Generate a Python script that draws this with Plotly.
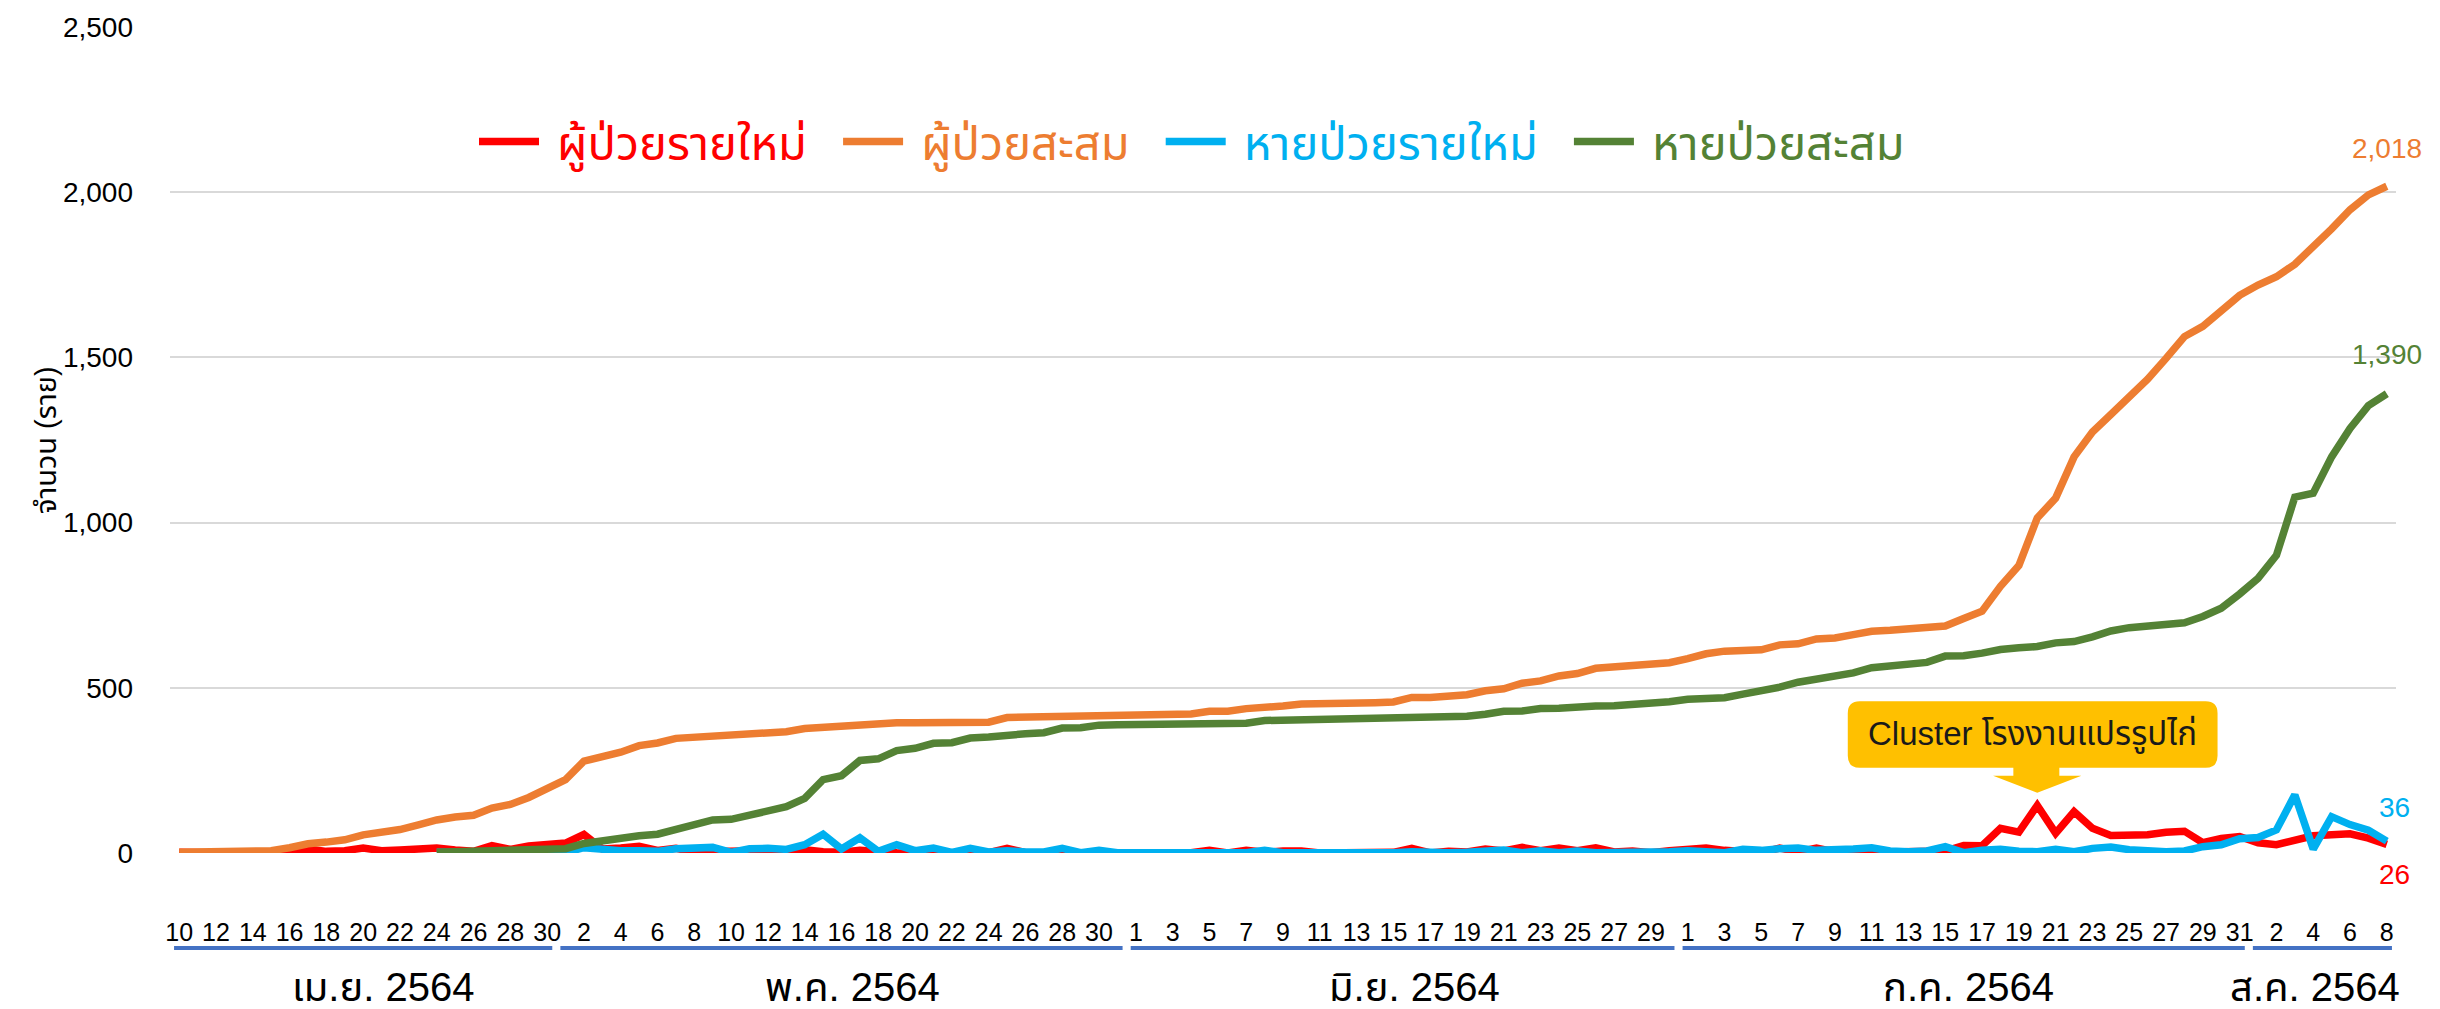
import plotly.graph_objects as go

# ---------------- data ----------------
month_names = ["เม.ย. 2564", "พ.ค. 2564", "มิ.ย. 2564", "ก.ค. 2564", "ส.ค. 2564"]
month_first_day = [10, 1, 1, 1, 1]
month_last_day = [30, 31, 30, 31, 8]

series_names = ["ผู้ป่วยรายใหม่", "ผู้ป่วยสะสม", "หายป่วยรายใหม่", "หายป่วยสะสม"]
series_colors = ["#FF0000", "#ED7D31", "#00B0F0", "#548235"]

# new cases (daily), 10 Apr .. 8 Aug 2564
new_cases = [2, 0, 1, 2, 1, 1, 9, 12, 5, 7,
             15, 7, 9, 14, 15, 9, 5, 22, 11, 21,
             24, 30, 56, 12, 15, 20, 8, 14, 3, 4,
             2, 2, 4, 5, 10, 4, 2, 8, 2, 1,
             0, 0, 1, 0, 1, 14, 1, 1, 1, 0,
             1, 3, 2, 1, 0, 1, 8, 0, 8, 2,
             6, 6, 0, 1, 1, 2, 2, 14, 0, 5,
             3, 12, 6, 17, 7, 15, 7, 16, 3, 6,
             1, 7, 12, 15, 8, 3, 1, 15, 3, 15,
             3, 10, 10, 3, 5, 2, 6, 23, 22, 75,
             63, 144, 60, 125, 75, 53, 52, 55, 63, 66,
             31, 44, 50, 31, 25, 38, 52, 55, 58, 45, 26]

# cumulative cases
cum_cases = [2, 2, 3, 5, 6, 7, 16, 28, 33, 40,
             55, 62, 71, 85, 100, 109, 114, 136, 147, 168,
             192, 222, 278, 290, 305, 325, 333, 347, 350, 354,
             356, 358, 362, 367, 377, 381, 383, 391, 393, 394,
             394, 394, 395, 395, 396, 410, 411, 412, 413, 413,
             414, 417, 419, 420, 420, 421, 429, 429, 437, 439,
             445, 451, 451, 452, 453, 455, 457, 471, 471, 476,
             479, 491, 497, 514, 521, 536, 543, 559, 562, 568,
             569, 576, 588, 603, 611, 614, 615, 630, 633, 648,
             651, 661, 671, 674, 679, 681, 687, 710, 732, 807,
             870, 1014, 1074, 1199, 1274, 1327, 1379, 1434, 1497, 1563,
             1594, 1638, 1688, 1719, 1744, 1782, 1834, 1889, 1947, 1992, 2018]

# new recoveries (daily) - first reported 24 Apr
new_recovered = [None] * 14 + [
             2, 1, 1, 2, 2, 1,
             2, 2, 16, 9, 7, 7, 5, 13, 13, 17,
             2, 13, 14, 11, 25, 57, 12, 46, 5, 25,
             7, 15, 2, 14, 3, 7, 3, 3, 14, 1,
             8, 1, 1, 1, 1, 0, 0, 1, 1, 8,
             1, 1, 0, 1, 0, 1, 1, 4, 1, 1,
             2, 6, 9, 1, 7, 1, 6, 1, 1, 3,
             5, 4, 7, 4, 1, 11, 8, 13, 15, 8,
             8, 12, 16, 6, 4, 6, 19, 1, 8, 11,
             5, 4, 11, 4, 14, 18, 10, 5, 4, 6,
             19, 25, 43, 47, 70, 176, 12, 110, 86, 69, 36]

# cumulative recoveries
cum_recovered = [None] * 14 + [
             2, 3, 4, 6, 8, 9,
             11, 13, 29, 38, 45, 52, 57, 70, 83, 100,
             102, 115, 129, 140, 165, 222, 234, 280, 285, 310,
             317, 332, 334, 348, 351, 358, 361, 364, 378, 379,
             387, 388, 389, 390, 391, 391, 391, 392, 393, 401,
             402, 403, 403, 404, 404, 405, 406, 410, 411, 412,
             414, 420, 429, 430, 437, 438, 444, 445, 446, 449,
             454, 458, 465, 469, 470, 481, 489, 502, 517, 525,
             533, 545, 561, 567, 571, 577, 596, 597, 605, 616,
             621, 625, 636, 640, 654, 672, 682, 687, 691, 697,
             716, 741, 784, 831, 901, 1077, 1089, 1199, 1285, 1354, 1390]

y_ticks = [0, 500, 1000, 1500, 2000, 2500]
y_title = "จำนวน (ราย)"
callout_text = "Cluster โรงงานแปรรูปไก่"
callout_month, callout_daynum = 3, 20  # ก.ค. 20 : the day the callout points at

# ---------------- categories ----------------
day_labels, month_index = [], []
for m, (a, b) in enumerate(zip(month_first_day, month_last_day)):
    for d in range(a, b + 1):
        day_labels.append(d)
        month_index.append(m)
x = list(range(len(day_labels)))
cat_text = [f"{d} {month_names[m]}" for d, m in zip(day_labels, month_index)]

FONT = "Liberation Sans, Noto Sans Thai, Noto Sans, sans-serif"
W, H = 2440, 1009
L, R, T, B = 170, 44, 19, 156
PW, PH = W - L - R, H - T - B

def py(pix):  # pixel y -> paper
    return (H - B - pix) / PH

def px(pix):
    return (pix - L) / PW

fig = go.Figure()
all_series = [new_cases, cum_cases, new_recovered, cum_recovered]
NB = "\u00a0"
for k, (name, ys, col) in enumerate(zip(series_names, all_series, series_colors)):
    pad = NB * 2 if k < len(series_names) - 1 else ""
    fig.add_trace(go.Scatter(
        x=x, y=ys, mode="lines",
        name=f"<span style='color:{col}'>{NB}{name}{pad}</span>",
        line=dict(color=col, width=7.5),
        customdata=cat_text,
        hovertemplate="%{customdata}: %{y:,}<extra>" + name + "</extra>",
    ))

annotations = []
shapes = []

# end-of-series value labels
end_offsets = [(8, -30), (0, 38), (8, 34), (0, 39)]
for ys, col, (dx, dy) in zip(all_series, series_colors, end_offsets):
    annotations.append(dict(
        x=x[-1], y=ys[-1], xref="x", yref="y", text=f"{ys[-1]:,}",
        showarrow=False, xshift=dx, yshift=dy,
        font=dict(size=28, color=col, family=FONT),
    ))

# month group labels + bracket lines
month_label_shift = [20, 11, 12, 5, -7]
start = 0
for m, name in enumerate(month_names):
    n = month_index.count(m)
    end = start + n - 1
    shapes.append(dict(type="line", xref="x", yref="paper",
                       x0=start - 0.5 + 0.22, x1=end + 0.5 - 0.22,
                       y0=py(949), y1=py(949),
                       line=dict(color="#4472C4", width=4)))
    annotations.append(dict(x=(start + end) / 2, y=py(988), xref="x", yref="paper",
                            text=name, showarrow=False, yanchor="middle",
                            xshift=month_label_shift[m],
                            font=dict(size=40, color="#000000", family=FONT)))
    start = end + 1

# y axis title
annotations.append(dict(x=px(28), y=0.5, xref="paper", yref="paper", text=y_title,
                        textangle=-90, showarrow=False,
                        font=dict(size=29, color="#000000", family=FONT)))

# callout (yellow rounded box with down arrow)
tip_i = [i for i in x if month_index[i] == callout_month and day_labels[i] == callout_daynum][0]
bx0, bx1 = tip_i - 10.3, tip_i + 9.8
by0, by1 = 258, 459
rx, ry = 0.65, 36
sx0, sx1 = tip_i - 1.3, tip_i + 1.2
hx0, hx1 = tip_i - 2.4, tip_i + 2.4
hy, ty = 234, 182
path = (f"M{bx0+rx},{by1} L{bx1-rx},{by1} Q{bx1},{by1} {bx1},{by1-ry} "
        f"L{bx1},{by0+ry} Q{bx1},{by0} {bx1-rx},{by0} "
        f"L{sx1},{by0} L{sx1},{hy} L{hx1},{hy} L{tip_i},{ty} L{hx0},{hy} L{sx0},{hy} L{sx0},{by0} "
        f"L{bx0+rx},{by0} Q{bx0},{by0} {bx0},{by0+ry} L{bx0},{by1-ry} Q{bx0},{by1} {bx0+rx},{by1} Z")
shapes.append(dict(type="path", xref="x", yref="y", path=path,
                   fillcolor="#FFC000", line=dict(width=0), layer="above"))
annotations.append(dict(x=(bx0 + bx1) / 2, y=(by0 + by1) / 2, xref="x", yref="y",
                        text=callout_text, showarrow=False,
                        font=dict(size=33, color="#1A1A1A", family=FONT)))

fig.update_layout(
    width=W, height=H,
    margin=dict(l=L, r=R, t=T, b=B, pad=0),
    paper_bgcolor="white", plot_bgcolor="white",
    font=dict(family=FONT, color="#000000"),
    showlegend=True,
    legend=dict(orientation="h", x=px(1192), y=py(135), xanchor="center", yanchor="middle",
                font=dict(size=47, family=FONT), bgcolor="rgba(0,0,0,0)",
                itemwidth=60, traceorder="normal"),
    annotations=annotations,
    shapes=shapes,
    hovermode="closest",
)
fig.update_xaxes(
    range=[-0.5, len(x) - 0.5], showgrid=False, zeroline=False, showline=False,
    tickmode="array", tickvals=x[::2], ticktext=[str(d) for d in day_labels[::2]],
    ticks="", ticklabelstandoff=62, tickfont=dict(size=25, color="#000000", family=FONT),
    tickangle=0,
)
fig.update_yaxes(
    range=[0, 2500], tickmode="array", tickvals=y_ticks, tickformat=",",
    showgrid=True, gridcolor="#D9D9D9", gridwidth=2, zeroline=False, showline=False,
    ticks="", ticklabelstandoff=36, tickfont=dict(size=28, color="#000000", family=FONT),
)

fig.write_html("out.html", config={"displayModeBar": False},
               post_script="document.body.style.margin='0';document.body.style.overflow='hidden';")
